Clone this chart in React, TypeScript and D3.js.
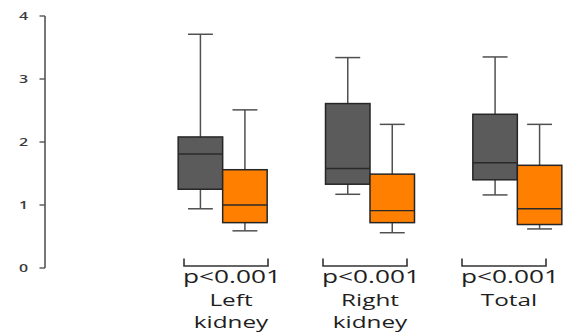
import React from "react";
import * as d3 from "d3";

const groups = ["Left kidney", "Right kidney", "Total"];
const groupLines = [["Left", "kidney"], ["Right", "kidney"], ["Total"]];
const pValues = ["p<0.001", "p<0.001", "p<0.001"];
const series = ["before", "after"];
const seriesColors = ["#5b5b5b", "#ff8000"];

// five-number summaries, one array per series
const whiskerHigh = [[3.71, 3.34, 3.35], [2.51, 2.28, 2.28]];
const upperQuartile = [[2.08, 2.61, 2.44], [1.56, 1.49, 1.63]];
const medians = [[1.81, 1.58, 1.67], [1.0, 0.91, 0.94]];
const lowerQuartile = [[1.25, 1.33, 1.4], [0.72, 0.72, 0.69]];
const whiskerLow = [[0.94, 1.17, 1.16], [0.59, 0.56, 0.62]];
const yTicks = [0, 1, 2, 3, 4];

const width = 569;
const height = 334;
const stretch = 1.45; // the source image is squeezed horizontally

function App() {
  const y = d3.scaleLinear().domain([0, 4]).range([268, 16]);
  const x = d3.scaleBand().domain(groups).range([149, 591]).padding(0);
  const step = x.bandwidth();
  const inner = d3
    .scaleBand()
    .domain(series)
    .range([step / 2 - 44.5, step / 2 + 44.5])
    .padding(0);
  const capW = inner.bandwidth() * 0.56;
  // annotations under the boxes sit a little off the group centres
  const ann = d3.scalePoint().domain(groups).range([229, 507]);

  return (
    <svg
      width={width}
      height={height}
      style={{ position: "absolute", left: 0, top: 0, background: "#fff" }}
    >
      {/* y axis */}
      <g>
        <line x1={45} x2={45} y1={y(4)} y2={y(0)} stroke="#555" strokeWidth={1.6} />
        {yTicks.map((t) => (
          <g key={t}>
            <line x1={39.5} x2={45} y1={y(t)} y2={y(t)} stroke="#555" strokeWidth={1.4} />
            <text
              transform={`translate(28,${y(t)}) scale(${stretch},1)`}
              textAnchor="end"
              dy="0.36em"
              fontFamily="Open Sans"
              fontSize={11}
              fontWeight={600}
              fill="#3a3a3a"
            >
              {t}
            </text>
          </g>
        ))}
      </g>

      {/* boxes */}
      {groups.map((g, gi) =>
        series.map((s, si) => {
          const x0 = (x(g) as number) + (inner(s) as number);
          const w = inner.bandwidth();
          const cx = x0 + w / 2;
          return (
            <g key={g + s}>
              <line x1={cx} x2={cx} y1={y(whiskerHigh[si][gi])} y2={y(upperQuartile[si][gi])} stroke="#505050" strokeWidth={1.5} />
              <line x1={cx} x2={cx} y1={y(lowerQuartile[si][gi])} y2={y(whiskerLow[si][gi])} stroke="#505050" strokeWidth={1.5} />
              <line x1={cx - capW / 2} x2={cx + capW / 2} y1={y(whiskerHigh[si][gi])} y2={y(whiskerHigh[si][gi])} stroke="#505050" strokeWidth={1.5} />
              <line x1={cx - capW / 2} x2={cx + capW / 2} y1={y(whiskerLow[si][gi])} y2={y(whiskerLow[si][gi])} stroke="#505050" strokeWidth={1.5} />
              <rect
                x={x0}
                width={w}
                y={y(upperQuartile[si][gi])}
                height={y(lowerQuartile[si][gi]) - y(upperQuartile[si][gi])}
                fill={seriesColors[si]}
                stroke="#262626"
                strokeWidth={1.5}
              />
              <line x1={x0} x2={x0 + w} y1={y(medians[si][gi])} y2={y(medians[si][gi])} stroke="#2a2a2a" strokeWidth={1.4} />
            </g>
          );
        })
      )}

      {/* brackets, p values and group names */}
      {groups.map((g, gi) => {
        const c = ann(g) as number;
        return (
          <g key={"a" + g}>
            <path
              d={`M${c - 45},258.5V266H${c + 39}V258.5`}
              fill="none"
              stroke="#333"
              strokeWidth={1.6}
            />
            <text
              transform={`translate(${c + 3},283) scale(1.5,1)`}
              textAnchor="middle"
              fontFamily="Open Sans"
              fontSize={17.5}
              fontWeight={500}
              fill="#1e1e1e"
            >
              {pValues[gi]}
            </text>
            {groupLines[gi].map((line, li) => (
              <text
                key={line}
                transform={`translate(${c + 2},${306 + li * 22}) scale(1.52,1)`}
                textAnchor="middle"
                fontFamily="Open Sans"
                fontSize={16}
                fontWeight={500}
                fill="#1e1e1e"
              >
                {line}
              </text>
            ))}
          </g>
        );
      })}
    </svg>
  );
}

export default App;
